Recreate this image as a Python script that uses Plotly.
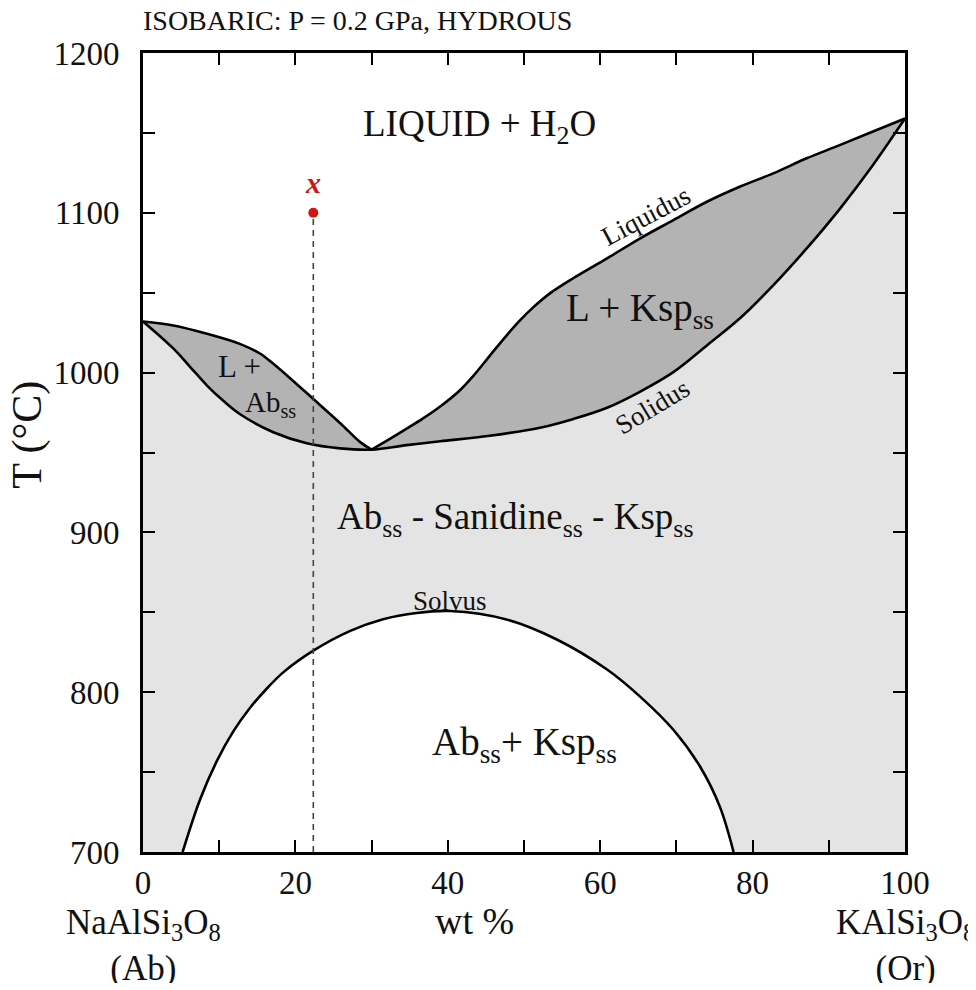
import plotly.graph_objects as go

# ---- data ----
liq_left_x = [0, 4.0, 8.4, 12.7, 15.4, 17.1, 19.3, 22.35, 25.85, 28.5, 30.0]
liq_left_T = [1032, 1029.5, 1024.3, 1018, 1011.8, 1005.5, 996.5, 983.5, 968.5, 956.5, 951.8]
liq_right_x = [30.0, 32.4, 34.6, 36.8, 39.0, 41.6, 43.3, 45.5, 47.7, 49.5, 51.2, 53.4, 56.5, 60.9, 65.2,
               69.6, 74.0, 78.3, 82.7, 87.1, 91.5, 95.8, 100]
liq_right_T = [951.8, 958.5, 964.9, 971.5, 978.8, 989.0, 997.7, 1010.5, 1023.2, 1032.8, 1040.8, 1049.6, 1059.2,
               1071.5, 1083.9, 1095.4, 1106.9, 1116.3, 1124.7, 1134.1, 1142.5, 1150.9, 1159]

sol_x = [0, 4.0, 6.2, 8.4, 10.5, 12.7, 17.1, 21.5, 25.85, 30.0, 34.6, 39.0, 45.5, 52.1, 56.5, 60.9, 65.2,
         69.6, 74.0, 78.3, 82.7, 87.1, 91.5, 95.8, 100]
sol_T = [1032, 1015, 1003.5, 991.9, 982.5, 974.1, 962.7, 955.8, 952.6, 951.8, 954.6, 957.0, 960.5, 965.5,
         971.0, 978.0, 988.0, 1000.3, 1017, 1033.8, 1054.6, 1077.7, 1102.8, 1129.9, 1159]

solvus_x = [5.2, 7.5, 9.7, 11.85, 14.0, 16.2, 18.4, 22.35, 27.2, 31.5, 35.9, 40.3, 47.7, 54.3, 60.9, 65.2,
            69.6, 73.1, 75.7, 77.5]
solvus_T = [700, 733, 757, 775.5, 790, 802, 812.4, 826, 838.4, 845.7, 849.6, 850.8, 845.5, 833,
            814.2, 797.4, 776.5, 753.5, 728.4, 700]

point_x = [22.35]
point_T = [1100]

x_ticks = [0, 20, 40, 60, 80, 100]
y_ticks = [700, 800, 900, 1000, 1100, 1200]

LIGHT = "#e4e4e4"
DARK = "#b3b3b3"
INK = "#111111"
FONT = "Liberation Serif"
SPL = dict(shape="spline", smoothing=1)

fig = go.Figure()

def filltrace(x, y, fill=None, color=None):
    kw = dict(fill=fill, fillcolor=color) if fill else {}
    fig.add_trace(go.Scatter(x=x, y=y, mode="lines", line=dict(width=0, **SPL),
                             hoverinfo="skip", showlegend=False, **kw))

# light grey: everything below the solidus
filltrace(sol_x, sol_T, "tozeroy", LIGHT)
# dark grey: between liquidus and solidus (L + crystals)
filltrace(liq_left_x, liq_left_T)
filltrace(sol_x, sol_T, "tonexty", DARK)
filltrace(liq_right_x, liq_right_T, "tonexty", DARK)
# white: below the solvus
filltrace(solvus_x, solvus_T, "tozeroy", "white")

def linetrace(x, y):
    fig.add_trace(go.Scatter(x=x, y=y, mode="lines", line=dict(width=2.6, color="black", **SPL),
                             hoverinfo="skip", showlegend=False))

for xs, ys in [(liq_left_x, liq_left_T), (liq_right_x, liq_right_T), (sol_x, sol_T), (solvus_x, solvus_T)]:
    linetrace(xs, ys)

# dashed isopleth and red point
fig.add_trace(go.Scatter(x=[point_x[0], point_x[0]], y=[700, point_T[0]], mode="lines",
                         line=dict(color="#444444", width=1.6, dash="6px,5px"), showlegend=False, hoverinfo="skip"))
fig.add_trace(go.Scatter(x=point_x, y=point_T, mode="markers", marker=dict(color="#d01515", size=10),
                         showlegend=False, hoverinfo="skip"))

def ann(text, x, y, size, angle=0, color=INK, **kw):
    fig.add_annotation(x=x, y=y, xref="x", yref="y", text=text, showarrow=False, textangle=angle,
                       font=dict(family=FONT, size=size, color=color), **kw)

ann("<b><i>x</i></b>", point_x[0], 1119, 30, color="#d01515")
ann("LIQUID + H<sub>2</sub>O", 44.2, 1154, 37)
ann("L + Ksp<sub>ss</sub>", 65.2, 1039, 39)
ann("L +", 12.7, 1003.6, 31)
ann("Ab<sub>ss</sub>", 16.7, 980.4, 29)
ann("Ab<sub>ss</sub> - Sanidine<sub>ss</sub> - Ksp<sub>ss</sub>", 48.8, 908, 37)
ann("Ab<sub>ss</sub>+ Ksp<sub>ss</sub>", 50.1, 767, 39)
ann("Solvus", 40.3, 857, 27)
ann("Liquidus", 66.0, 1098, 27, angle=-28)
ann("Solidus", 66.8, 978.5, 27, angle=-31)

# end-member labels and axis titles
fig.add_annotation(x=0, y=-0.117, xref="x", yref="paper", xanchor="center", yanchor="middle", showarrow=False,
                   text="NaAlSi<sub>3</sub>O<sub>8</sub><br>(Ab)", font=dict(family=FONT, size=35, color=INK))
fig.add_annotation(x=100, y=-0.117, xref="x", yref="paper", xanchor="center", yanchor="middle", showarrow=False,
                   text="KAlSi<sub>3</sub>O<sub>8</sub><br>(Or)", font=dict(family=FONT, size=35, color=INK))
fig.add_annotation(x=-0.151, y=0.522, xref="paper", yref="paper", xanchor="center", yanchor="middle",
                   showarrow=False, textangle=-90,
                   text="T (°C)", font=dict(family=FONT, size=42, color=INK))
fig.add_annotation(x=0.435, y=-0.086, xref="paper", yref="paper", xanchor="center", yanchor="middle",
                   showarrow=False, text="wt %", font=dict(family=FONT, size=38, color=INK))

fig.update_layout(
    width=960, height=975,
    margin=dict(l=135, r=63, t=45, b=131),
    paper_bgcolor="white", plot_bgcolor="white",
    font=dict(family=FONT, size=33, color=INK),
    title=dict(text="ISOBARIC: P = 0.2 GPa, HYDROUS", x=0.0, xref="paper", xanchor="left",
               y=0.988, yref="container", yanchor="middle",
               font=dict(family=FONT, size=28, color=INK)),
    xaxis=dict(range=[0, 100], tickvals=x_ticks, ticks="inside", ticklen=12, tickwidth=1.5, tickcolor="black",
               minor=dict(dtick=10, ticks="inside", ticklen=12, tickwidth=1.5, tickcolor="black"),
               showline=True, linewidth=2.6, linecolor="black", mirror="allticks", showgrid=False, zeroline=False,
               tickfont=dict(family=FONT, size=33, color=INK)),
    yaxis=dict(range=[700, 1200], tickvals=y_ticks, ticks="inside", ticklen=12, tickwidth=1.5, tickcolor="black",
               minor=dict(dtick=50, ticks="inside", ticklen=12, tickwidth=1.5, tickcolor="black"),
               showline=True, linewidth=2.6, linecolor="black", mirror="allticks", showgrid=False, zeroline=False,
               ticklabelstandoff=14, tickfont=dict(family=FONT, size=33, color=INK)),
)

fig.write_html("out.html")
